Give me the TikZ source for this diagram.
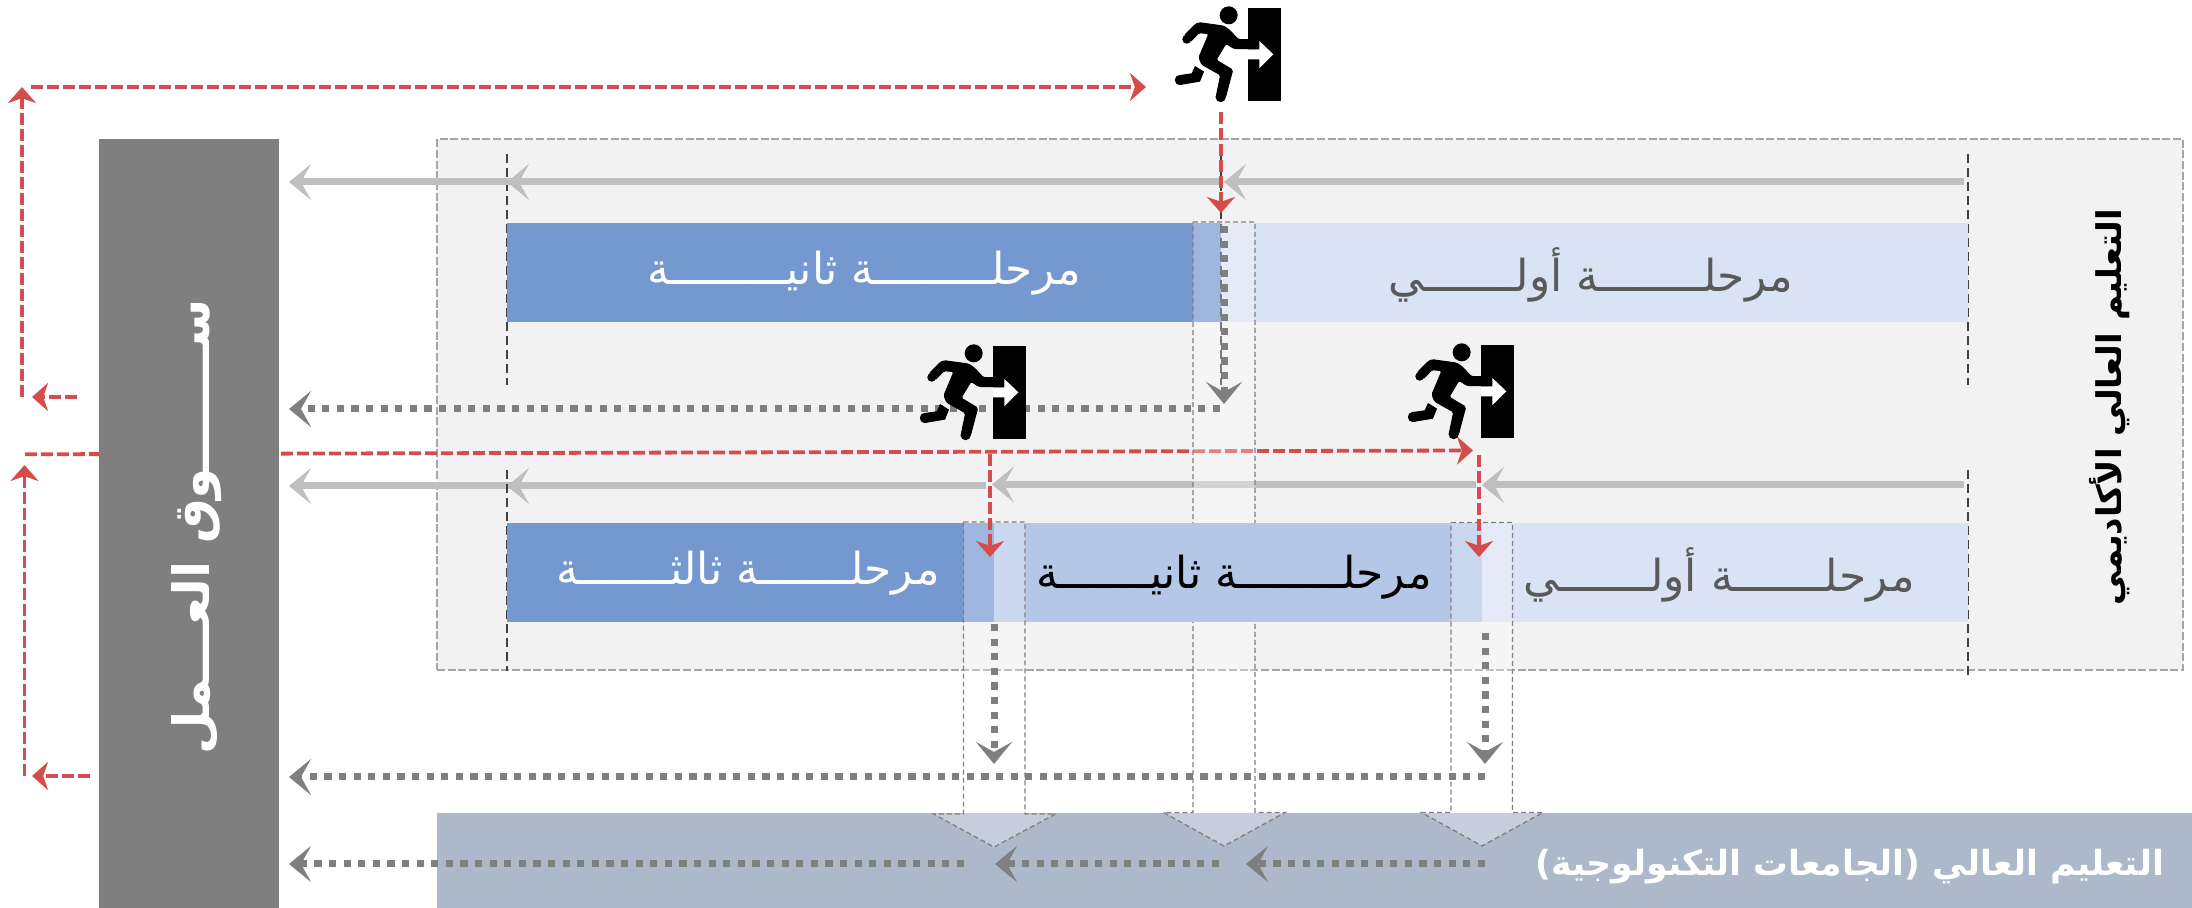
\documentclass[tikz,border=0pt]{standalone}
\usepackage{fontspec}
\usetikzlibrary{arrows.meta}
\TeXXeTstate=1
\newfontfamily\arabicfont[Script=Arabic]{DejaVu Sans}
\newcommand\ka{ـ}
\newcommand\kf{ـــــ}
\definecolor{redline}{HTML}{D44C4C}
\definecolor{darkblue}{HTML}{7698D0}
\definecolor{midblue}{HTML}{B4C7E7}
\definecolor{lightblue}{HTML}{DAE3F3}
\definecolor{panel}{HTML}{F2F2F2}
\definecolor{slate}{HTML}{ADB9CA}
\definecolor{market}{HTML}{7F7F7F}
\tikzset{
  box/.style 2 args={inner sep=0pt,outer sep=0pt,minimum width=#1*0.5pt,minimum height=#2*0.5pt,anchor=north west},
  txt/.style={inner sep=0pt,font=\arabicfont\fontsize{#1}{#1}\selectfont},
  redarrow/.style={draw=redline,line width=1.9pt,dash pattern=on 6pt off 2pt,
    -{Stealth[length=8pt,width=14pt,inset=2.4pt,fill=redline]}},
  solidarrow/.style={draw=black!25,line width=3.5pt,-{Stealth[length=11pt,width=18pt,inset=5pt]}},
  dotarrow/.style={draw=market,line width=3.5pt,dash pattern=on 3.65pt off 3.65pt,-{Stealth[length=11pt,width=18pt,inset=5pt]}},
  sepline/.style={draw=black!75,line width=1pt,dash pattern=on 4.5pt off 2.5pt},
  strip/.style={fill=white,fill opacity=.3,draw=black!50,draw opacity=1,line width=.65pt,dash pattern=on 2.5pt off 1.5pt},
  runner/.pic={
    \begin{scope}[x=0.16667pt,y=-0.16667pt]
      \fill[black] (444,23) rectangle (542,302);
      \fill[white] (444,148) -- (478,148) -- (478,123) -- (520,163) -- (478,205) -- (478,178) -- (444,178) -- cycle;
      \fill[black] (386,46) circle[radius=4.5pt];
      \filldraw[black,line width=.5pt,rounded corners=.8pt] (297,68) -- (370,78) -- (388,90) -- (415,119) -- (473,119) -- (473,146) -- (403,146) -- (378,130) -- (348,180) -- (398,210) -- (376,293) -- (349,288) -- (362,225) -- (305,193) -- (297,172) -- (327,101) -- (297,98) -- (270,126) -- (252,108) -- (285,74) -- cycle;
      \fill[black] (285,198) -- (312,215) -- (300,245) -- (240,255) -- (240,225) -- (275,220) -- cycle;
      \fill[black] (260,118) circle[radius=2.2pt] (362,291) circle[radius=2.6pt] (240,240) circle[radius=2.6pt];
    \end{scope}
  }
}
\begin{document}
\begin{tikzpicture}[x=0.5pt,y=-0.5pt]
\useasboundingbox (0,0) rectangle (2192,908);
% coordinates for connector ends
\coordinate (topL) at (31,87);     \coordinate (topR) at (1146,87);
\coordinate (upA) at (22,397);     \coordinate (upB) at (22,87);
\coordinate (smallA) at (77,397);  \coordinate (smallB) at (32,397);
\coordinate (lowA) at (25,454.3);  \coordinate (lowB) at (1473,450.5);
\coordinate (up2A) at (24.5,776);  \coordinate (up2B) at (24.5,465);
\coordinate (small2A) at (90,776); \coordinate (small2B) at (32,776);
\coordinate (re1a) at (1221,112);  \coordinate (re1b) at (1221,213);
\coordinate (re2a) at (990,454);   \coordinate (re2b) at (990,557);
\coordinate (re3a) at (1479,455);  \coordinate (re3b) at (1479,557);
\coordinate (s1a) at (1964,182);   \coordinate (s1b) at (1224,182);
\coordinate (s1c) at (1222,182);   \coordinate (s1d) at (507,182);  \coordinate (s1e) at (520,182); \coordinate (s1f) at (289,182);
\coordinate (s2a) at (1964,485);   \coordinate (s2b) at (1482,485);
\coordinate (s2c) at (1476,484.5); \coordinate (s2d) at (992,484.5);
\coordinate (s2e) at (986,486);    \coordinate (s2f) at (507,486);  \coordinate (s2g) at (520,486); \coordinate (s2h) at (289,486);
\coordinate (d1a) at (1224,226);   \coordinate (d1b) at (1224,404);
\coordinate (d1c) at (1220,409);   \coordinate (d1d) at (289,409);
\coordinate (d2a) at (994,624);    \coordinate (d2b) at (994,764);
\coordinate (d3a) at (1485,633);   \coordinate (d3b) at (1485,764);
\coordinate (d4a) at (1485,777);   \coordinate (d4b) at (289,777);
\coordinate (b1a) at (1485,864);   \coordinate (b1b) at (1246,864);
\coordinate (b2a) at (1219,864);   \coordinate (b2b) at (995,864);
\coordinate (b3a) at (964,864);    \coordinate (b3b) at (289,864);
% panels
\node[box={1746}{531},fill=panel,draw=black!35,line width=1.4pt,dash pattern=on 4pt off 1.35pt] (panelbox) at (437,139) {};
\node[box={1755}{95},fill=slate] (techbox) at (437,813) {};
% row 2 connectors under strip A
\draw[solidarrow] (s2a) -- (s2b);
\draw[solidarrow] (s2c) -- (s2d);
\draw[solidarrow] (s2e) -- (s2f);
\draw[solidarrow] (s2g) -- (s2h);
\draw[redarrow] (lowA) -- (lowB);
% separators
\draw[sepline] (507,154) -- (507,385);
\draw[sepline] (507,470) -- (507,671);
\draw[sepline] (1968,154) -- (1968,385);
\draw[sepline] (1968,470) -- (1968,675);
% upper row
\node[box={714}{99},fill=darkblue] (u2) at (507,223) {};
\node[box={747}{99},fill=lightblue] (u1) at (1221,223) {};
\draw[sepline] (1221,154) -- (1221,385);
% strip A
\draw[strip] (1193,222) -- (1255,222) -- (1255,812.5) -- (1285,812.5) -- (1224,846) -- (1163.5,812.5) -- (1193,812.5) -- cycle;
% lower row
\node[box={487}{99},fill=darkblue] (l3) at (507,523) {};
\node[box={488}{99},fill=midblue] (l2) at (994,523) {};
\node[box={486}{99},fill=lightblue] (l1) at (1482,523) {};
% strips B, C
\draw[strip] (963.5,522) -- (1025,522) -- (1025,814) -- (1055.5,814) -- (994,847) -- (933.5,814) -- (963.5,814) -- cycle;
\draw[strip] (1451,522.5) -- (1512.5,522.5) -- (1512.5,812.5) -- (1543,812.5) -- (1482,846) -- (1421.5,812.5) -- (1451,812.5) -- cycle;
% market
\node[box={180}{769},fill=market] (marketbox) at (99,139) {};
% row 1
\draw[solidarrow] (s1a) -- (s1b);
\draw[solidarrow] (s1c) -- (s1d);
\draw[solidarrow] (s1e) -- (s1f);
% dotted
\draw[dotarrow] (d1a) -- (d1b);
\draw[dotarrow] (d1c) -- (d1d);
\draw[dotarrow] (d2a) -- (d2b);
\draw[dotarrow] (d3a) -- (d3b);
\draw[dotarrow] (d4a) -- (d4b);
\draw[dotarrow] (b1a) -- (b1b);
\draw[dotarrow] (b2a) -- (b2b);
\draw[dotarrow] (b3a) -- (b3b);
% red
\draw[redarrow] (topL) -- (topR);
\draw[redarrow] (upA) -- (upB);
\draw[redarrow] (smallA) -- (smallB);
\draw[redarrow] (up2A) -- (up2B);
\draw[redarrow] (small2A) -- (small2B);
\draw[redarrow] (re1a) -- (re1b);
\draw[redarrow] (re2a) -- (re2b);
\draw[redarrow] (re3a) -- (re3b);
% runners
\pic (runA) at (1100,0) {runner};
\pic (runB) at (845,338) {runner};
\pic (runC) at (1333,337) {runner};
% texts
\node[txt=22pt,text=white] (t1) at (864,273) {\beginR مرحل\kf\ka\ka\ka\ka ة ثاني\kf\ka\ka\ka\ka ة\endR};
\node[txt=22pt,text=black!65] (t2) at (1591,275) {\beginR مرحل\kf\ka\ka\ka ة أول\kf\ka\ka ي\endR};
\node[txt=22pt,text=white] (t3) at (748,573) {\beginR مرحل\kf\ka\ka ة ثالث\kf\ka\ka ة\endR};
\node[txt=22pt,text=black] (t4) at (1234,577) {\beginR مرحل\kf\ka\ka\ka ة ثاني\kf\ka\ka ة\endR};
\node[txt=22pt,text=black!65] (t5) at (1719,575) {\beginR مرحل\kf\ka\ka ة أول\kf\ka\ka ي\endR};
\node[txt=17pt,text=black,rotate=90] (t6) at (2110,407) {\bfseries\beginR التعليم العالي الأكاديمي\endR};
\node[txt=25pt,text=white,rotate=90] (t7) at (197,527) {\bfseries\beginR ســـــــوق العـــمل\endR};
\node[txt=17.3pt,text=white] (t8) at (1850,867) {\bfseries\beginR التعليم العالي (الجامعات التكنولوجية)\endR};
\end{tikzpicture}
\end{document}
